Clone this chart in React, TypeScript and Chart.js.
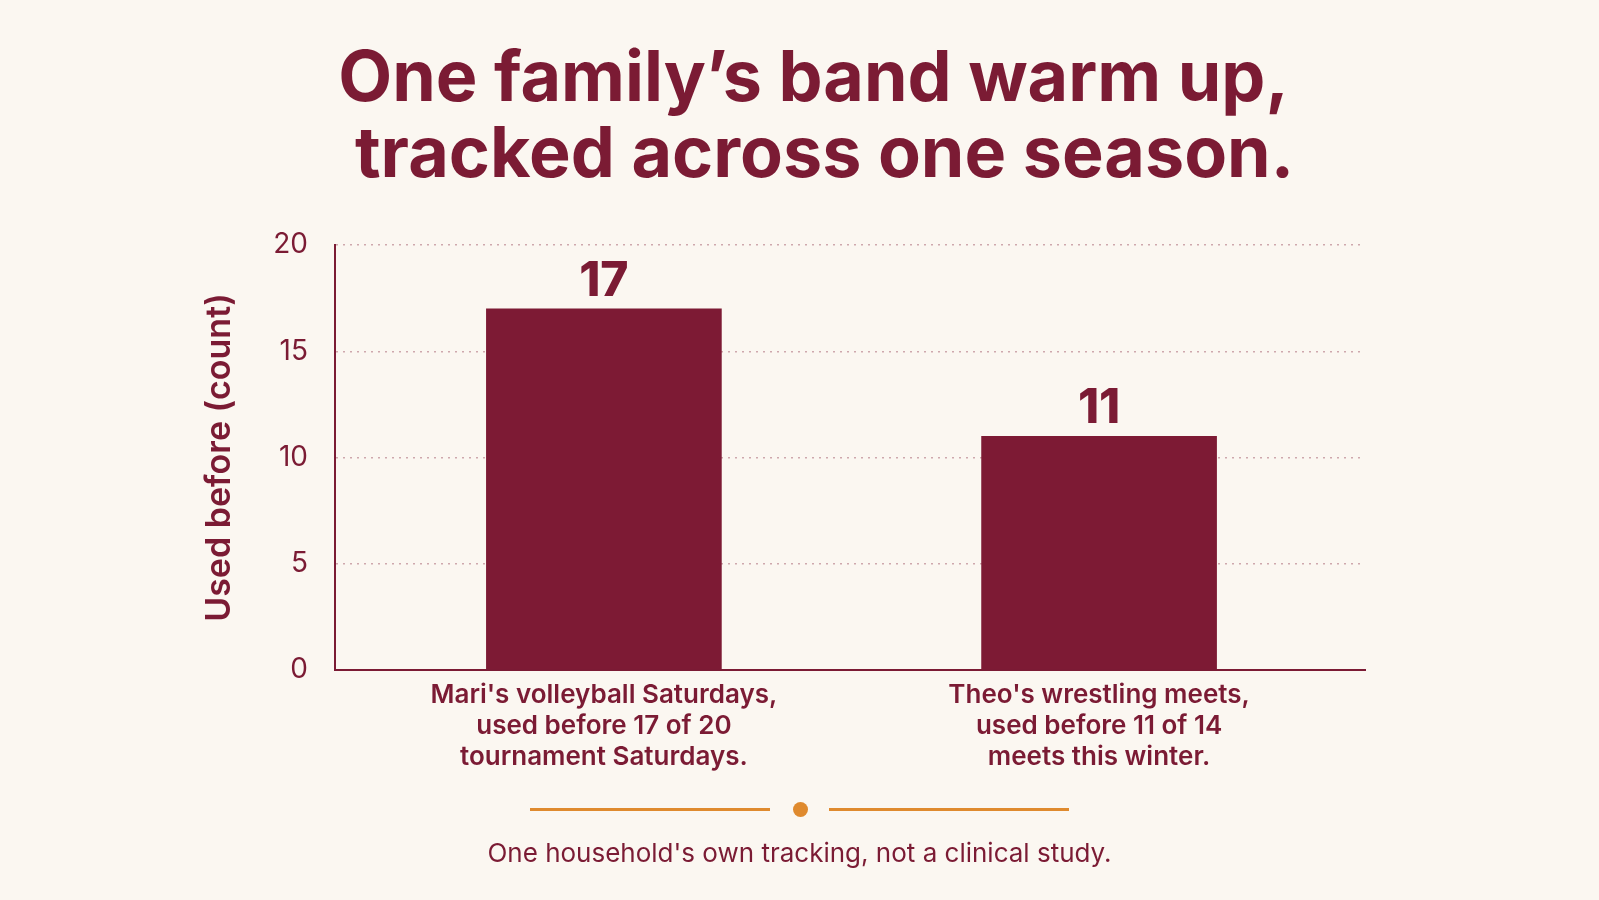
import { useEffect, useRef } from "react"
import { Chart, type ChartConfiguration, registerables } from "chart.js"

Chart.register(...registerables)

const titleLines = ["One family’s band warm up,", "tracked across one season."]
const categoryLabels = [
  ["Mari's volleyball Saturdays,", "used before 17 of 20", "tournament Saturdays."],
  ["Theo's wrestling meets,", "used before 11 of 14", "meets this winter."],
]
const barPositions = [0, 1]
const usedCounts = [17, 11]
const yTicks = [0, 5, 10, 15, 20]
const yTitle = "Used before (count)"
const footnote = "One household's own tracking, not a clinical study."

const MAROON = "#7b1b34"
const BAR = "#7d1a34"
const ORANGE = "#df8a2e"
const BG = "#fbf7f1"
const FONT = "Inter, 'Noto Sans', sans-serif"

const valueLabels = {
  id: "valueLabels",
  afterDatasetsDraw(chart: Chart) {
    const ctx = chart.ctx
    const meta = chart.getDatasetMeta(0)
    ctx.save()
    ctx.fillStyle = MAROON
    ctx.font = `800 48px ${FONT}`
    ctx.textAlign = "center"
    ctx.textBaseline = "alphabetic"
    meta.data.forEach((bar: any, i: number) => {
      ctx.fillText(String(usedCounts[i]), bar.x, bar.y - 13)
    })
    ctx.restore()
  },
}

function BandChart() {
  const canvasRef = useRef<HTMLCanvasElement>(null)
  const chartRef = useRef<Chart | null>(null)

  useEffect(() => {
    if (!canvasRef.current) return
    if (chartRef.current) chartRef.current.destroy()
    const ctx = canvasRef.current.getContext("2d")
    if (!ctx) return

    const config: ChartConfiguration = {
      type: "bar",
      data: {
        datasets: [
          {
            data: barPositions.map((x, i) => ({ x, y: usedCounts[i] })) as any,
            backgroundColor: BAR,
            borderWidth: 0,
            barThickness: 235,
          },
        ],
      },
      options: {
        animation: false,
        responsive: true,
        maintainAspectRatio: false,
        layout: { padding: { left: 186, right: 234, top: 245, bottom: 0 } },
        plugins: {
          legend: { display: false },
          tooltip: { enabled: false },
        },
        scales: {
          x: {
            type: "linear",
            offset: false,
            min: -0.543,
            max: 1.537,
            afterBuildTicks: (axis: any) => {
              axis.ticks = barPositions.map((v) => ({ value: v }))
            },
            afterFit: (axis: any) => {
              axis.height = 230
            },
            grid: { display: false, drawTicks: false, offset: false },
            border: { display: true, color: MAROON, width: 2 },
            ticks: {
              color: MAROON,
              padding: 9,
              font: { family: FONT, size: 26, weight: 600, lineHeight: 1.21 } as any,
              callback: (_v: any, i: number) => categoryLabels[i],
              maxRotation: 0,
              autoSkip: false,
            },
          },
          y: {
            min: 0,
            max: 20,
            afterBuildTicks: (axis: any) => {
              axis.ticks = yTicks.map((v) => ({ value: v }))
            },
            afterFit: (axis: any) => {
              axis.width = 149
            },
            grid: {
              color: "rgba(150, 70, 90, 0.45)",
              lineWidth: 1.5,
              drawTicks: false,
            },
            border: { display: true, color: MAROON, width: 2, dash: [2, 5] },
            ticks: {
              color: MAROON,
              padding: 27,
              font: { family: FONT, size: 28, weight: 400 } as any,
            },
            title: {
              display: true,
              text: yTitle,
              color: MAROON,
              padding: { top: 13, bottom: 0 },
              font: { family: FONT, size: 34, weight: 600 } as any,
            },
          },
        },
      },
      plugins: [valueLabels],
    }

    chartRef.current = new Chart(ctx, config)
    return () => {
      if (chartRef.current) chartRef.current.destroy()
      chartRef.current = null
    }
  }, [])

  return (
    <div style={{ position: "absolute", left: 0, top: 0, width: 1599, height: 900 }}>
      <canvas ref={canvasRef}></canvas>
    </div>
  )
}

export default function App() {
  return (
    <div
      style={{
        position: "fixed",
        left: 0,
        top: 0,
        width: 1599,
        height: 900,
        background: BG,
        overflow: "hidden",
        fontFamily: FONT,
      }}
    >
      <BandChart />
      <div
        style={{
          position: "absolute",
          left: 28,
          top: 38,
          width: 1571,
          textAlign: "center",
          color: MAROON,
          fontSize: 70,
          fontWeight: 700,
          lineHeight: "76px",
        }}
      >
        {titleLines.map((t, i) => (
          <div key={t} style={{ paddingLeft: i === 1 ? 22 : 0 }}>
            {t}
          </div>
        ))}
      </div>
      <div style={{ position: "absolute", left: 530, top: 807.5, width: 240, height: 3, background: ORANGE }} />
      <div
        style={{
          position: "absolute",
          left: 792.5,
          top: 801.5,
          width: 15,
          height: 15,
          borderRadius: "50%",
          background: ORANGE,
        }}
      />
      <div style={{ position: "absolute", left: 829, top: 807.5, width: 240, height: 3, background: ORANGE }} />
      <div
        style={{
          position: "absolute",
          left: 0,
          top: 837,
          width: 1599,
          textAlign: "center",
          color: MAROON,
          fontSize: 26,
          lineHeight: "32px",
        }}
      >
        {footnote}
      </div>
    </div>
  )
}
